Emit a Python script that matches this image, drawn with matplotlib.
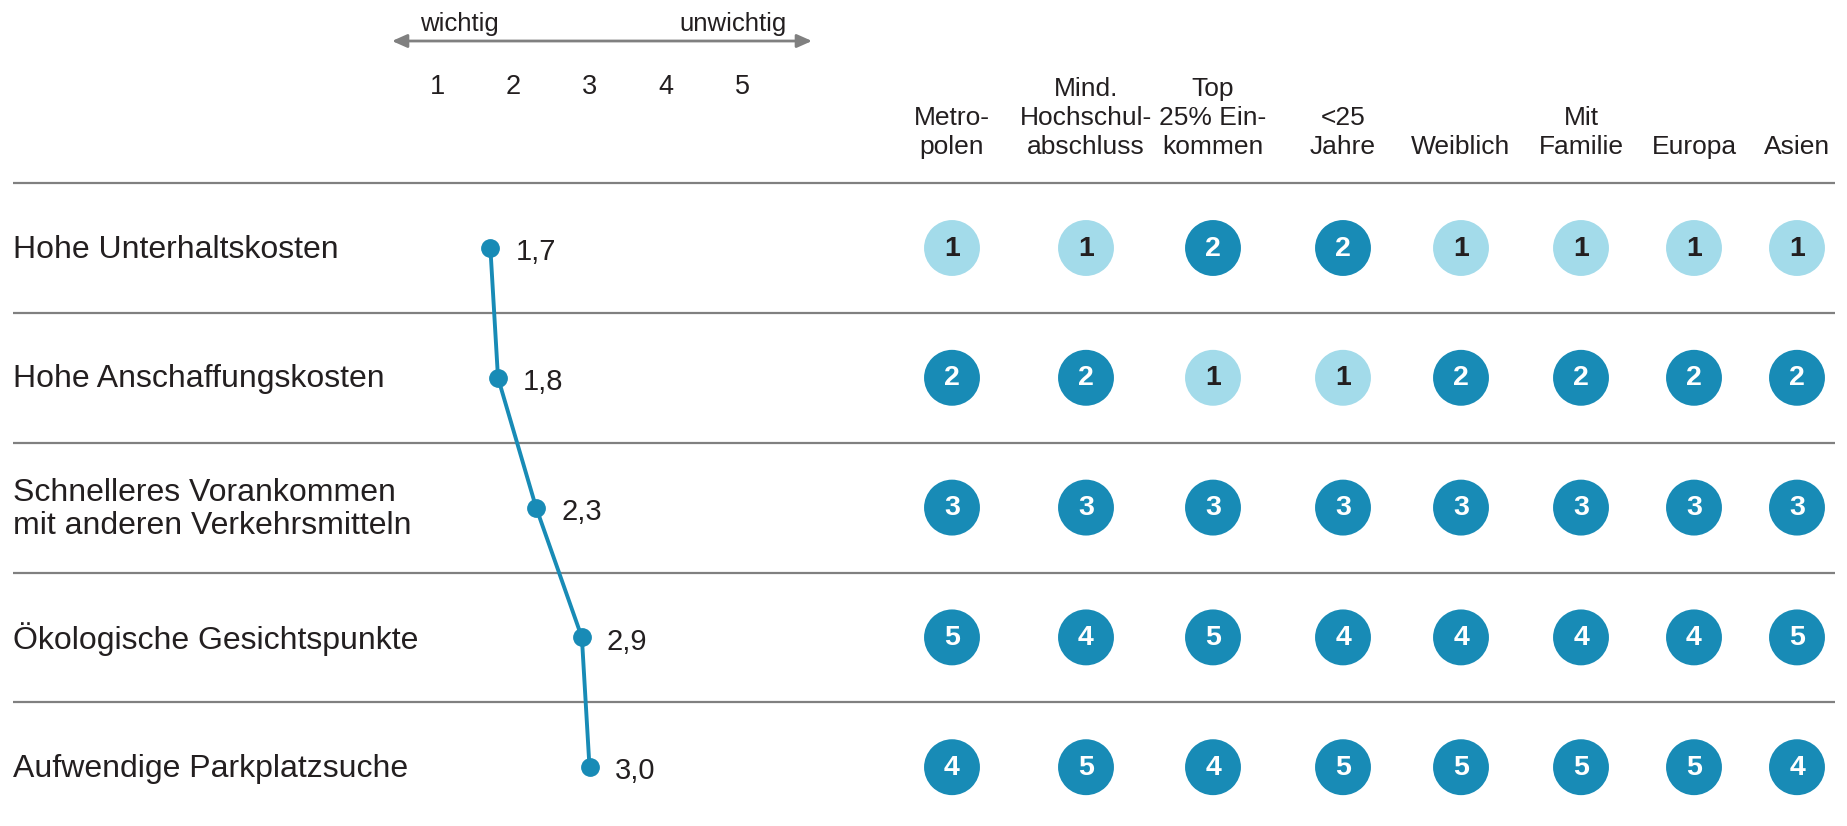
import matplotlib
matplotlib.use("Agg")
import matplotlib.pyplot as plt

plt.rcParams['font.family'] = ['Liberation Sans', 'DejaVu Sans']

# ---- data ----
reasons = ["Hohe Unterhaltskosten",
           "Hohe Anschaffungskosten",
           "Schnelleres Vorankommen\nmit anderen Verkehrsmitteln",
           "Ökologische Gesichtspunkte",
           "Aufwendige Parkplatzsuche"]
avg_score = [1.7, 1.8, 2.3, 2.9, 3.0]
avg_label = ["1,7", "1,8", "2,3", "2,9", "3,0"]

groups = ["Metro-\npolen", "Mind.\nHochschul-\nabschluss", "Top\n25% Ein-\nkommen",
          "<25\nJahre", "Weiblich", "Mit\nFamilie", "Europa", "Asien"]
rank_metropolen = [1, 2, 3, 5, 4]
rank_hochschule = [1, 2, 3, 4, 5]
rank_top25 = [2, 1, 3, 5, 4]
rank_u25 = [2, 1, 3, 4, 5]
rank_weiblich = [1, 2, 3, 4, 5]
rank_familie = [1, 2, 3, 4, 5]
rank_europa = [1, 2, 3, 4, 5]
rank_asien = [1, 2, 3, 5, 4]
ranks = [rank_metropolen, rank_hochschule, rank_top25, rank_u25,
         rank_weiblich, rank_familie, rank_europa, rank_asien]

scale_ticks = [1, 2, 3, 4, 5]

# ---- layout ----
W, H = 1847, 826
row_y0, row_dy = 248, 129.8          # pixel centre of first row, row pitch
col_x = [952, 1086, 1213, 1343, 1461, 1581, 1694, 1797]
sc_x0, sc_dx = 437, 76.25            # pixel x of score 1, pixels per score unit

dark = "#188bb6"
light = "#a3dbea"
txt = "#231f20"
grey = "#808080"


def py(y):
    # pixel y -> row units
    return (y - row_y0) / row_dy


fig = plt.figure(figsize=(W / 100, H / 100), dpi=100)
ax = fig.add_axes([0, 0, 1, 1])
ax.set_xlim(0, W)
ax.set_ylim(py(H), py(0))
ax.axis('off')

axl = fig.add_axes([0, 0, 1, 1], sharey=ax)
axl.set_xlim(1 - sc_x0 / sc_dx, 1 + (W - sc_x0) / sc_dx)
axl.axis('off')
axl.patch.set_alpha(0)

rows = list(range(len(reasons)))

# separators
ax.hlines([r - 0.5 for r in rows], 13, 1835, color=grey, lw=1.6)

# row labels
for r, lab in zip(rows, reasons):
    ax.text(13, r + 0.012, lab, ha='left', va='center', fontsize=23,
            color=txt, linespacing=1.12)

# circles
for j, col in enumerate(ranks):
    for r, v in zip(rows, col):
        fc = light if v == 1 else dark
        tc = txt if v == 1 else "white"
        ax.scatter(col_x[j], r, s=1620, color=fc, edgecolors='none', zorder=3)
        ax.text(col_x[j], r + 0.005, str(v), ha='center', va='center',
                fontsize=20.5, fontweight='bold', color=tc, zorder=4)

# column headers, one text per line, bottom line baseline fixed
for j, h in enumerate(groups):
    lines = h.split("\n")
    for k, line in enumerate(reversed(lines)):
        ax.text(col_x[j], py(154 - 29 * k), line, ha='center', va='baseline',
                fontsize=19, color=txt)

# average score line
axl.plot(avg_score, rows, color=dark, lw=2.8, marker='o', markersize=12.5,
         zorder=3)
for s, r, lab in zip(avg_score, rows, avg_label):
    axl.annotate(lab, (s, r), xytext=(18, -3), textcoords='offset points',
                 ha='left', va='center', fontsize=21, color=txt)

# scale
for t in scale_ticks:
    axl.text(t, py(87), str(t), ha='center', va='center', fontsize=19.5,
             color=txt)
axl.annotate("", xy=(1 + (392 - sc_x0) / sc_dx, py(41)),
             xytext=(1 + (812 - sc_x0) / sc_dx, py(41)),
             arrowprops=dict(arrowstyle='<|-|>,head_length=0.9,head_width=0.4',
                             color=grey, lw=2, shrinkA=0, shrinkB=0))
ax.text(420, py(31), "wichtig", ha='left', va='baseline', fontsize=18.5,
        color=txt)
ax.text(787, py(31), "unwichtig", ha='right', va='baseline', fontsize=18.5,
        color=txt)

fig.savefig("out.png", dpi=100)
